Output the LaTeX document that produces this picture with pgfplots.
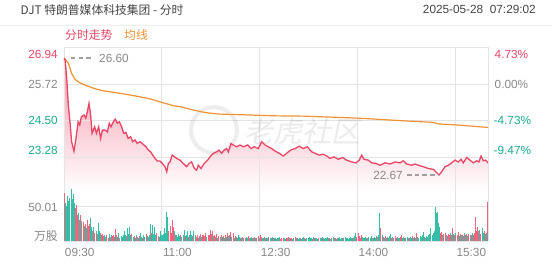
\documentclass[border=0pt]{standalone}
\usepackage{pgfplots}
\pgfplotsset{compat=1.18}
\usepackage{fontspec}
\setmainfont{Liberation Sans}
\newfontfamily\cjk{Noto Sans CJK SC}
\definecolor{pr}{RGB}{232,70,102}
\definecolor{av}{RGB}{240,146,52}
\definecolor{tl}{RGB}{26,170,150}
\definecolor{gy}{RGB}{136,136,136}
\definecolor{vr}{RGB}{240,100,125}
\definecolor{vt}{RGB}{52,190,168}
\definecolor{grd}{RGB}{228,228,228}
\definecolor{ttl}{RGB}{68,68,68}
\definecolor{sh}{RGB}{246,150,168}
\newcommand{\fs}{\fontsize{11.8}{14}\selectfont}

\pgfplotstableread{
t p
0 26.60
1 26.55
2.5 25.93
4 25.02
5.5 24.46
7 23.79
9.2 23.47
11 23.90
13 24.46
14.5 24.35
16 24.63
18.4 24.69
20 24.58
21.5 24.80
23 25.08
24.5 24.69
25.8 24.07
27 24.18
28.2 24.29
29.8 24.07
31.9 24.29
33.7 23.90
35.3 24.18
37.7 24.18
39.9 24.12
41.7 24.41
43.2 24.29
45.4 24.46
47.2 24.55
49 24.41
50.9 24.46
53 24.29
55 24.07
57 24.10
59 23.90
61.3 23.96
63.2 23.79
65.3 23.85
67.4 23.73
69.9 23.79
72.9 23.70
75.4 23.62
77.6 23.51
79.7 23.45
81.6 23.34
83.7 23.23
85.8 23.14
88.3 23.14
90.4 23.06
92.9 22.95
94.5 22.78
96 23.06
97.5 23.11
99.6 23.34
103.6 23.23
106.7 23.17
109.7 23.06
112.8 22.95
115 23.06
117.4 23.11
119.9 22.89
122 22.83
123.5 23.00
126 22.89
129 23.06
132.1 23.17
134.3 23.28
137.3 23.40
140.4 23.45
142.6 23.51
145 23.40
147.4 23.51
149.6 23.56
151.2 23.45
153.6 23.73
155.7 23.68
158.8 23.62
161.9 23.68
164.9 23.62
169 23.68
172 23.56
175 23.62
178.7 23.56
181.8 23.79
184.9 23.68
187.9 23.62
191 23.56
194 23.48
198 23.40
201.7 23.31
204.7 23.40
208.5 23.51
212.5 23.56
216.4 23.64
220 23.56
223.8 23.62
227.8 23.45
230.9 23.40
234.8 23.34
238.5 23.37
241.6 23.31
244.7 23.23
248.3 23.28
252.3 23.20
256.3 23.26
260 23.17
264.6 23.11
268.6 23.08
271.6 23.17
273.8 23.34
275.9 23.20
279.9 23.17
283 23.08
287 23.06
290.6 23.00
295.3 23.08
299.8 23.04
304.4 23.11
309 23.08
312.1 23.15
315.2 23.04
319.8 23.00
322.8 23.04
325.9 23.00
330.5 22.95
335.1 22.89
339.7 22.86
341.9 22.78
344.9 22.67
347.4 22.78
350.4 22.95
353.5 23.00
356.6 23.08
359.6 23.17
362.7 23.11
365.2 23.20
367.3 23.08
370.4 23.26
373.4 23.17
376.5 23.08
379.6 23.15
381.7 23.11
383.6 23.31
385.7 23.15
387.9 23.17
390 23.08
}\price

\pgfplotstableread{
t a
0 26.58
1 26.56
4 26.43
7 26.09
10 25.89
14.5 25.77
21 25.67
27 25.59
36 25.50
45.4 25.45
57.7 25.38
69.9 25.30
79 25.23
88.3 25.13
96 25.05
100.5 25.00
108 24.96
117 24.87
130 24.77
142 24.72
169.5 24.69
194 24.66
220 24.65
251 24.61
272 24.58
290.6 24.54
313.6 24.49
339.7 24.44
344.3 24.39
362.7 24.35
390 24.27
}\avg

\begin{document}
\begin{tikzpicture}
\fill[white] (0,0) rectangle (552pt,265pt);
\draw[grd!60, line width=0.6pt] (0,240pt) -- (552pt,240pt);
\node[anchor=west, inner sep=0, text=ttl, font=\cjk\fs] at (20.5pt,255pt) {DJT 特朗普媒体科技集团 - 分时};
\node[anchor=east, inner sep=0, text=ttl, font=\fs] at (536pt,255.8pt) {2025-05-28\ \ 07:29:02};
\node[anchor=west, inner sep=0, text=pr, font=\cjk\fs] at (65pt,230.3pt) {分时走势};
\node[anchor=west, inner sep=0, text=av, font=\cjk\fs] at (124pt,230.3pt) {均线};

\begin{axis}[at={(64pt,73pt)}, anchor=south west, scale only axis,
  width=424pt, height=145pt, xmin=0, xmax=390, ymin=22.10, ymax=26.974,
  axis line style={draw=none}, xtick={0,90,180,270,360,390},
  ytick={23.28,24.50,25.72,26.974}, xticklabel=\empty, yticklabel=\empty,
  major tick length=0pt, tick style={draw=none}, xmajorgrids, ymajorgrids,
  grid style={draw=grd, line width=0.7pt}, clip mode=individual, axis on top=false]
\addplot[draw=none, top color=sh, bottom color=white, shading=axis] table[x=t,y=p] {\price} -- (axis cs:390,22.10) -- (axis cs:0,22.10) -- cycle;
\draw[grd, line width=0.7pt] (axis cs:0,23.28) -- (axis cs:390,23.28);
\draw[grd, line width=0.7pt] (axis cs:0,24.50) -- (axis cs:390,24.50);
\draw[grd, line width=0.7pt] (axis cs:90,22.10) -- (axis cs:90,26.974);
\draw[grd, line width=0.7pt] (axis cs:180,22.10) -- (axis cs:180,26.974);
\draw[grd, line width=0.7pt] (axis cs:270,22.10) -- (axis cs:270,26.974);
\draw[grd, line width=0.7pt] (axis cs:360,22.10) -- (axis cs:360,26.974);
\draw[grd, line width=0.7pt] (axis cs:0,22.10) -- (axis cs:0,26.974);
\draw[black, draw opacity=0.07, line width=4pt] (axis cs:138,24.18) circle[radius=23pt];
\node[text=black, text opacity=0.08, font=\cjk\fontsize{29}{29}\selectfont, xslant=0.2, inner sep=0] at (axis cs:221.7,24.15) {老虎社区};
\addplot[av, line width=1.2pt] table[x=t,y=a] {\avg};
\addplot[pr, line width=1.3pt] table[x=t,y=p] {\price};
\draw[gy!80, line width=1.3pt, dash pattern=on 4.5pt off 3.2pt] (axis cs:6.4,26.60) -- (axis cs:26.7,26.60);
\node[anchor=west, inner sep=0, font=\fs, text=gy] at (axis cs:32.2,26.60) {26.60};
\draw[gy!80, line width=1.3pt, dash pattern=on 4.5pt off 3.2pt] (axis cs:315.5,22.67) -- (axis cs:344,22.67);
\node[anchor=east, inner sep=0, font=\fs, text=gy] at (axis cs:311.8,22.67) {22.67};
\node[anchor=east, inner sep=0, font=\fs, text=pr, xshift=-6pt] at (axis cs:0,26.738) {26.94};
\node[anchor=east, inner sep=0, font=\fs, text=gy, xshift=-6pt] at (axis cs:0,25.72) {25.72};
\node[anchor=east, inner sep=0, font=\fs, text=tl, xshift=-6pt] at (axis cs:0,24.496) {24.50};
\node[anchor=east, inner sep=0, font=\fs, text=tl, xshift=-6pt] at (axis cs:0,23.512) {23.28};
\node[anchor=west, inner sep=0, font=\fs, text=pr, xshift=6.5pt] at (axis cs:390,26.738) {4.73\%};
\node[anchor=west, inner sep=0, font=\fs, text=gy, xshift=6.5pt] at (axis cs:390,25.72) {0.00\%};
\node[anchor=west, inner sep=0, font=\fs, text=tl, xshift=5.5pt] at (axis cs:390,24.496) {-4.73\%};
\node[anchor=west, inner sep=0, font=\fs, text=tl, xshift=5.5pt] at (axis cs:390,23.512) {-9.47\%};
\end{axis}

\begin{axis}[at={(64pt,24pt)}, anchor=south west, scale only axis,
  width=424pt, height=53pt, xmin=0, xmax=390, ymin=0, ymax=76,
  axis line style={draw=none}, xtick={0,90,180,270,360,390},
  ytick={0,50.01}, xticklabel=\empty, yticklabel=\empty,
  major tick length=0pt, tick style={draw=none}, xmajorgrids, ymajorgrids,
  grid style={draw=grd, line width=0.7pt}, clip mode=individual, no markers]
\addplot[ycomb, draw=vr, line width=1.0pt, x filter/.expression={x+0.5}] coordinates {
(0,69)(10,48)(11,51)(12,38)(14,30)(15,37)(17,27)(19,25)(21,30)(22,22)(23,25)(26,15)(28,12)(30,10)(33,12)(35,10)
(36,7)(39,8)(40,5)(42,6)(44,7)(45,9)(47,17)(48,8)(51,5)(57,7)(62,10)(64,7)(67,6)(69,7)(72,5)(75,10)
(80,12)(85,12)(87,6)(96,15)(97,22)(98,12)(99,30)(100,20)(102,9)(107,8)(111,7)(114,6)
(118,7)(121,6)(122,8)(124,7)(125,10)(127,8)(128,9)(129,7)(130,12)(132,9)(133,8)(134,16)(135,10)
(136,14)(138,8)(139,6)(140,10)(142,7)(144,8)(146,7)(148,8)(150,11)(152,9)(153,13)(155,12)
(157,7)(159,5)(162,5)(164,6)(166,4)(169,7)(170,5)(173,5)(175,6)(177,4)(178,7)(180,9)(181,6)(185,5)
(188,6)(192,4)(195,3)(199,3)(200,4)(201,5)(204,5)(205,4)(206,6)(208,5)(209,4)(212,6)(214,5)
(217,4)(221,4)(228,3)(231,5)(234,5)(238,4)(243,4)(246,4)(248,5)(251,5)(256,4)(265,4)
(269,6)(270,12)(271,7)(272,5)(273,8)(278,5)(284,5)(288,6)(291,18)(293,6)(295,7)
(297,6)(301,5)(303,5)(304,7)(306,6)(309,6)(310,8)(313,4)(317,4)(320,7)(322,6)(324,11)(332,5)
(346,12)(347,13)(349,10)(350,12)(351,9)(353,10)(354,8)(356,9)(357,18)(359,8)(361,9)(362,13)(364,10)
(366,9)(369,8)(370,10)(372,10)(374,8)(376,9)(377,12)(378,35)(379,14)(380,20)(381,15)(383,10)
(386,14)(389,56)};
\addplot[ycomb, draw=vt, line width=1.0pt, x filter/.expression={x+0.5}] coordinates {
(1,55)(2,50)(3,64)(4,58)(5,61)(6,74)(7,60)(8,68)(9,55)(13,40)(16,28)(18,22)(20,18)(24,33)(25,20)(27,20)(29,15)(31,26)(32,15)(34,8)
(37,9)(38,6)(41,10)(43,8)(46,6)(49,6)(50,12)(52,7)(53,6)(54,8)(55,15)
(56,9)(58,18)(59,10)(60,20)(61,8)(63,6)(65,5)(66,8)(68,5)(70,12)(71,6)(73,8)(74,6)
(76,7)(77,6)(78,9)(79,25)(81,23)(82,10)(83,20)(84,8)(86,7)(88,14)(89,9)(90,8)(91,10)(92,18)(93,12)(94,42)(95,35)
(101,15)(103,8)(104,6)(105,10)(106,7)(108,6)(109,9)(110,16)(112,8)(113,14)(115,9)
(116,15)(117,8)(119,14)(120,9)(123,5)(126,6)(131,6)(137,7)(141,5)(143,6)(145,6)
(147,5)(149,6)(151,7)(154,6)(156,5)(158,6)(160,8)(161,6)(163,4)(165,5)
(167,6)(168,5)(171,4)(172,6)(174,4)(176,5)(179,5)(182,5)(183,4)(184,6)
(186,4)(187,5)(189,4)(190,5)(191,6)(193,5)(194,4)(196,5)(197,4)(198,6)(202,4)(203,3)
(207,4)(210,3)(211,5)(213,4)(215,3)(216,5)(218,3)(219,5)(220,6)(222,3)(223,5)(224,4)(225,6)
(226,4)(227,5)(229,6)(230,4)(232,4)(233,3)(235,4)(236,5)(237,6)(239,3)(240,5)(241,4)(242,6)(244,5)(245,3)
(247,6)(249,4)(250,3)(252,4)(253,6)(254,3)(255,5)(257,5)(258,6)(259,4)(260,5)(261,3)(262,4)(263,6)(264,5)
(266,5)(267,7)(268,11)(274,6)(275,5)(276,4)(277,6)(279,4)(280,6)(281,5)(282,7)(283,4)(285,6)
(286,5)(287,7)(289,8)(290,40)(292,8)(294,5)(296,5)(298,4)(299,7)(300,10)(302,6)(305,4)
(307,5)(308,4)(311,5)(312,6)(314,5)(315,6)(316,5)(318,6)(319,5)(321,4)(323,5)(325,6)
(326,5)(327,7)(328,6)(329,8)(330,13)(331,6)(333,7)(334,6)(335,8)
(336,10)(337,18)(338,9)(339,12)(340,15)(341,49)(342,40)(343,42)(344,26)(345,20)
(348,8)(352,7)(355,11)(358,10)(360,12)(363,7)(365,8)(367,7)(368,12)(371,7)(373,9)(375,11)
(382,16)(384,18)(385,12)(387,10)(388,12)};
\node[anchor=east, inner sep=0, font=\fs, text=gy, xshift=-6pt] at (axis cs:0,48.6) {50.01};
\node[anchor=east, inner sep=0, font=\cjk\fs, text=gy, xshift=-6pt] at (axis cs:0,7.1) {万股};
\node[anchor=north west, inner sep=0, font=\fs, text=gy, xshift=0.8pt, yshift=-7pt] at (axis cs:0,0) {09:30};
\node[anchor=north west, inner sep=0, font=\fs, text=gy, xshift=1pt, yshift=-7pt] at (axis cs:90,0) {11:00};
\node[anchor=north west, inner sep=0, font=\fs, text=gy, xshift=1pt, yshift=-7pt] at (axis cs:180,0) {12:30};
\node[anchor=north west, inner sep=0, font=\fs, text=gy, xshift=1pt, yshift=-7pt] at (axis cs:270,0) {14:00};
\node[anchor=north west, inner sep=0, font=\fs, text=gy, xshift=1pt, yshift=-7pt] at (axis cs:360,0) {15:30};
\end{axis}
\pgfresetboundingbox
\path[use as bounding box] (0,0) rectangle (552pt,265pt);
\end{tikzpicture}
\end{document}
